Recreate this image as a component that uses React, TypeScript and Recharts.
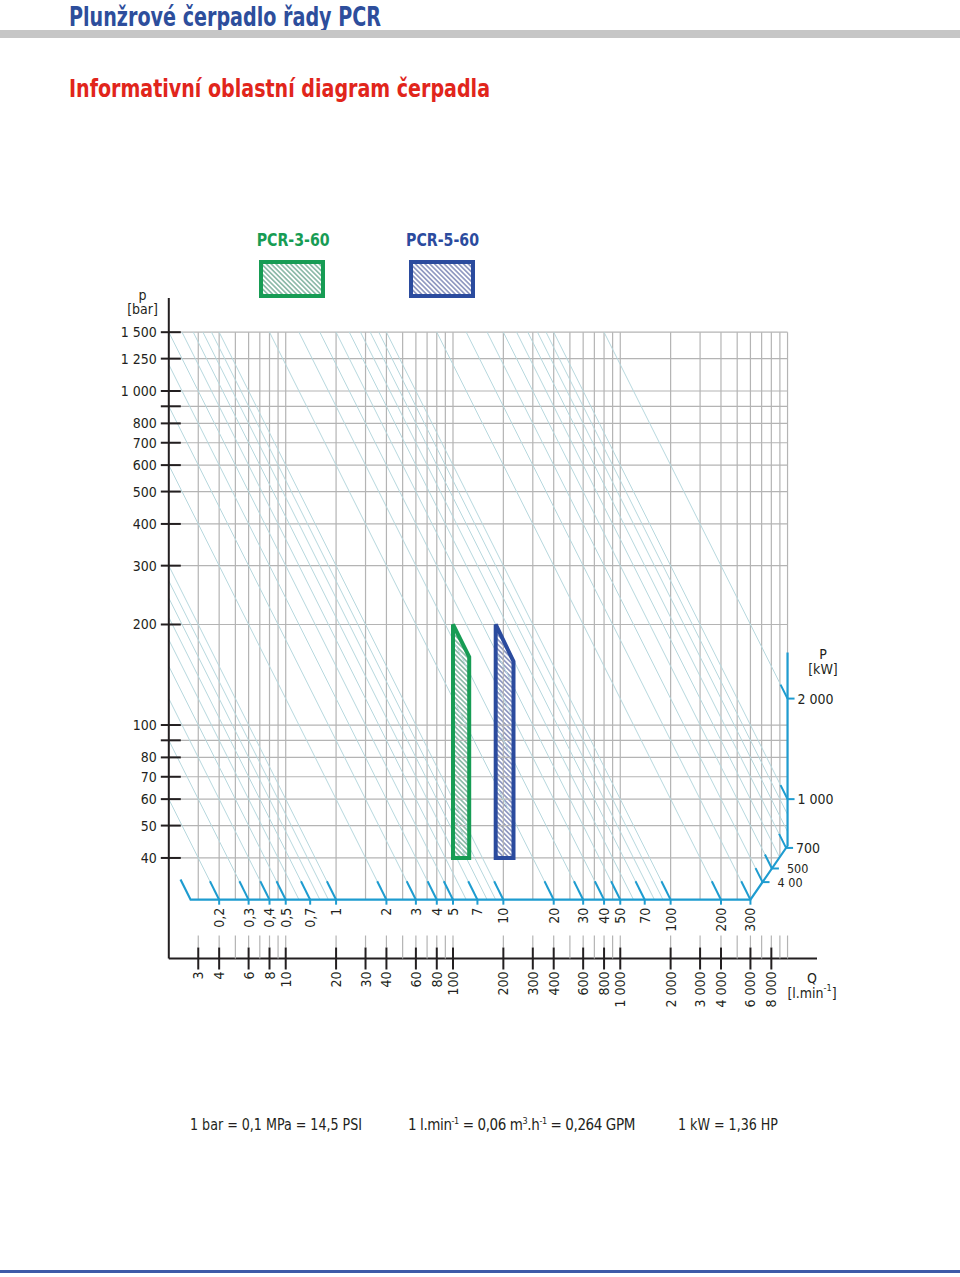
import React from 'react';
import { ComposedChart, XAxis, YAxis, Line, Area } from 'recharts';

const FONT = "'Liberation Sans Narrow','Arial Narrow','DejaVu Sans Condensed','Roboto Condensed',Roboto,Arial,sans-serif";

// ---------- axes ----------
const qDomain: [number, number] = [2, 15000];
const pDomain: [number, number] = [20, 1900];
const qGridValues = [3, 4, 5, 6, 7, 8, 9, 10, 20, 30, 40, 50, 60, 70, 80, 90, 100, 200, 300, 400, 500, 600, 700, 800, 900, 1000, 2000, 3000, 4000, 5000, 6000, 7000, 8000, 9000, 10000];
const qTickLabels = [3, 4, 6, 8, 10, 20, 30, 40, 60, 80, 100, 200, 300, 400, 600, 800, 1000, 2000, 3000, 4000, 6000, 8000];
const pGridValues = [40, 50, 60, 70, 80, 90, 100, 200, 300, 400, 500, 600, 700, 800, 900, 1000, 1250, 1500];
const pTickLabels = [40, 50, 60, 70, 80, 100, 200, 300, 400, 500, 600, 700, 800, 1000, 1250, 1500];
const gridQMin = 2;
const gridQMax = 10000;
const gridPMax = 1500;

// ---------- power lines P [kW] ----------
const powerLineValues = [0.2, 0.3, 0.4, 0.5, 0.6, 0.7, 0.8, 0.9, 1, 2, 3, 4, 5, 6, 7, 8, 9, 10, 20, 30, 40, 50, 60, 70, 80, 90, 100, 200, 300, 400, 500, 600, 700, 800, 900, 1000, 2000];
const powerBottomLabels = [0.2, 0.3, 0.4, 0.5, 0.7, 1, 2, 3, 4, 5, 7, 10, 20, 30, 40, 50, 70, 100, 200, 300];
const powerRightLabels = [400, 500, 700, 1000, 2000];
const powerRightText = ['4 00', '500', '700', '1 000', '2 000'];

// ---------- blue reference polyline (Q, p) ----------
const refPathQ = [2.35, 2.7, 6000, 10000, 10000];
const refPathP = [34.5, 30, 30, 43.5, 165];

// ---------- pumps ----------
const pumpNames = ['PCR-3-60', 'PCR-5-60'];
const pumpColors = ['#179c54', '#2b4b9e'];
const pumpHatch = ['hatchG', 'hatchB'];
const pumpQMin = [100, 180];
const pumpQMax = [125, 230];
const pumpPMin = [40, 40];
const pumpPMaxAtQMin = [200, 200];
const pumpPMaxAtQMax = [160, 155];

const GRID = '#b4b4b4';
const DIAG = '#b7d8de';
const REF = '#1e9cd0';
const INK = '#231f20';

const L = Math.log10;

function hitRef(a: number, b: number, c: number) {
  for (let i = 1; i < refPathQ.length - 1; i++) {
    const u1 = L(refPathQ[i]), v1 = L(refPathP[i]);
    const u2 = L(refPathQ[i + 1]), v2 = L(refPathP[i + 1]);
    const den = a * (u2 - u1) + b * (v2 - v1);
    if (Math.abs(den) < 1e-12) continue;
    const t = (c - a * u1 - b * v1) / den;
    if (t >= -1e-9 && t <= 1 + 1e-9) {
      return { q: Math.pow(10, u1 + t * (u2 - u1)), p: Math.pow(10, v1 + t * (v2 - v1)) };
    }
  }
  return null;
}

const fmt = (n: number) => {
  const s = String(n);
  const [i, d] = s.split('.');
  const ii = i.replace(/\B(?=(\d{3})+(?!\d))/g, ' ');
  return d ? ii + ',' + d : ii;
};

const diagonals = powerLineValues.map((P) => {
  let qs = (600 * P) / gridPMax;
  let ps = gridPMax;
  if (qs < gridQMin) {
    qs = gridQMin;
    ps = (600 * P) / gridQMin;
  }
  const end = hitRef(1, 1, L(600 * P))!;
  return { P, data: [{ q: qs, p: ps }, { q: end.q, p: end.p }] };
});

const vGrid = qGridValues.map((q) => {
  const end = hitRef(1, 0, L(q));
  return { q, data: [{ q, p: gridPMax }, { q, p: end ? end.p : 30 }] };
});

const hGrid = pGridValues.map((p) => {
  const end = hitRef(0, 1, L(p));
  return { p, data: [{ q: gridQMin, p }, { q: end ? end.q : gridQMax, p }] };
});

const refData = refPathQ.map((q, i) => ({ q, p: refPathP[i] }));

const bottomMarks = powerBottomLabels.map((P) => {
  const h = hitRef(1, 1, L(600 * P))!;
  return { q: h.q, p: h.p, label: fmt(P) };
});
const rightMarks = powerRightLabels.map((P, i) => {
  const h = hitRef(1, 1, L(600 * P))!;
  return { q: h.q, p: h.p, label: powerRightText[i] };
});

const XTick = (props: any) => {
  const { x, y, payload } = props;
  const v = payload.value;
  const lab = qTickLabels.includes(v);
  return (
    <g>
      <line x1={x} x2={x} y1={y - 23} y2={lab ? y - 11 : y} stroke={GRID} strokeWidth={1.2} />
      {lab && <line x1={x} x2={x} y1={y - 11} y2={y + 11} stroke={INK} strokeWidth={2} />}
      {lab && (
        <text x={x} y={y + 13} transform={`rotate(-90 ${x} ${y + 13})`} textAnchor="end" dominantBaseline="central" fontSize={14} fill={INK} fontFamily={FONT}>
          {fmt(v)}
        </text>
      )}
    </g>
  );
};

const YTick = (props: any) => {
  const { x, y, payload } = props;
  const v = payload.value;
  const lab = pTickLabels.includes(v);
  return (
    <g>
      <line x1={x - 8} x2={x + 12} y1={y} y2={y} stroke={INK} strokeWidth={2} />
      {lab && (
        <text x={x - 12} y={y} textAnchor="end" dominantBaseline="central" fontSize={14} fill={INK} fontFamily={FONT}>
          {fmt(v)}
        </text>
      )}
    </g>
  );
};

const BottomMark = (props: any) => {
  const { cx, cy, payload, index } = props;
  if (cx == null || cy == null) return <g key={index} />;
  return (
    <g key={`bm${index}`}>
      <line x1={cx} y1={cy} x2={cx - 9.2} y2={cy - 18.4} stroke={REF} strokeWidth={2} />
      <line x1={cx} y1={cy} x2={cx} y2={cy + 5} stroke={REF} strokeWidth={2} />
      <text x={cx} y={cy + 8} transform={`rotate(-90 ${cx} ${cy + 8})`} textAnchor="end" dominantBaseline="central" fontSize={14} fill={INK} fontFamily={FONT}>
        {payload.label}
      </text>
    </g>
  );
};

const RightMark = (props: any) => {
  const { cx, cy, payload, index } = props;
  if (cx == null || cy == null) return <g key={index} />;
  const onEdge = payload.q >= gridQMax * 0.95;
  return (
    <g key={`rm${index}`}>
      <line x1={cx} y1={cy} x2={cx - 7} y2={cy - 14} stroke={REF} strokeWidth={2} />
      <line x1={cx} y1={cy} x2={cx + 7} y2={cy} stroke={REF} strokeWidth={2} />
      <text x={cx + (onEdge ? 10 : 15)} y={cy} textAnchor="start" dominantBaseline="central" fontSize={onEdge ? 14 : 12.5} fill={INK} fontFamily={FONT}>
        {payload.label}
      </text>
    </g>
  );
};

function Overlay() {
  return (
    <svg width={960} height={1277} style={{ position: 'absolute', left: 0, top: 0, pointerEvents: 'none' }}>
      <defs>
        <pattern id="hatchG" patternUnits="userSpaceOnUse" width={3.4} height={3.4} patternTransform="rotate(45)">
          <rect width={3.4} height={3.4} fill="#ffffff" />
          <line x1={0} y1={1.7} x2={3.4} y2={1.7} stroke="#5f9f86" strokeWidth={1.2} />
        </pattern>
        <pattern id="hatchB" patternUnits="userSpaceOnUse" width={3.4} height={3.4} patternTransform="rotate(45)">
          <rect width={3.4} height={3.4} fill="#ffffff" />
          <line x1={0} y1={1.7} x2={3.4} y2={1.7} stroke="#6470a8" strokeWidth={1.2} />
        </pattern>
      </defs>
      <text x={69} y={26} fontSize={26} fontWeight="bold" fill="#2d4e9c" fontFamily={FONT} textLength={312} lengthAdjust="spacingAndGlyphs">
        Plunžrové čerpadlo řady PCR
      </text>
      <rect x={0} y={30} width={960} height={8} fill="#c6c6c6" />
      <text x={69} y={97} fontSize={25.5} fontWeight="bold" fill="#e1251b" fontFamily={FONT} textLength={421} lengthAdjust="spacingAndGlyphs">
        Informativní oblastní diagram čerpadla
      </text>

      {/* legend */}
      <text x={256.7} y={246} fontSize={17} fontWeight="bold" fill={pumpColors[0]} fontFamily={FONT} textLength={73} lengthAdjust="spacingAndGlyphs">
        {pumpNames[0]}
      </text>
      <rect x={261} y={262} width={62} height={34} fill="url(#hatchG)" stroke={pumpColors[0]} strokeWidth={4} />
      <text x={406} y={246} fontSize={17} fontWeight="bold" fill={pumpColors[1]} fontFamily={FONT} textLength={73} lengthAdjust="spacingAndGlyphs">
        {pumpNames[1]}
      </text>
      <rect x={411} y={262} width={62} height={34} fill="url(#hatchB)" stroke={pumpColors[1]} strokeWidth={4} />

      {/* axis titles */}
      <text x={142.5} y={295} textAnchor="middle" dominantBaseline="central" fontSize={14} fill={INK} fontFamily={FONT}>p</text>
      <text x={142.5} y={309} textAnchor="middle" dominantBaseline="central" fontSize={14} fill={INK} fontFamily={FONT}>[bar]</text>
      <text x={823} y={654} textAnchor="middle" dominantBaseline="central" fontSize={14} fill={INK} fontFamily={FONT}>P</text>
      <text x={823} y={669} textAnchor="middle" dominantBaseline="central" fontSize={14} fill={INK} fontFamily={FONT}>[kW]</text>
      <text x={812} y={978} textAnchor="middle" dominantBaseline="central" fontSize={14} fill={INK} fontFamily={FONT}>Q</text>
      <text x={812} y={993} textAnchor="middle" dominantBaseline="central" fontSize={14} fill={INK} fontFamily={FONT}>
        [l.min<tspan fontSize={9} dy={-5}>-1</tspan><tspan dy={5}>]</tspan>
      </text>

      {/* footer */}
      <text x={190} y={1130} fontSize={16} fill={INK} fontFamily={FONT} textLength={172} lengthAdjust="spacingAndGlyphs">
        1 bar = 0,1 MPa = 14,5 PSI
      </text>
      <text x={408} y={1130} fontSize={15} letterSpacing={-0.4} fill={INK} fontFamily={FONT}>
        1 l.min<tspan fontSize={9} dy={-6}>-1</tspan><tspan dy={6}> = 0,06 m</tspan><tspan fontSize={9} dy={-6}>3</tspan><tspan dy={6}>.h</tspan><tspan fontSize={9} dy={-6}>-1</tspan><tspan dy={6}> = 0,264 GPM</tspan>
      </text>
      <text x={678} y={1130} fontSize={16} fill={INK} fontFamily={FONT} textLength={100} lengthAdjust="spacingAndGlyphs">
        1 kW = 1,36 HP
      </text>
      <rect x={0} y={1270} width={960} height={3} fill="#3d5ba8" />
    </svg>
  );
}

export default function App() {
  return (
    <div style={{ position: 'absolute', left: 0, top: 0, width: 960, height: 1277, background: '#fff' }}>
      <ComposedChart width={960} height={1277} margin={{ top: 297.9, right: 143, bottom: 258.5, left: 108.8 }}>
        <XAxis
          dataKey="q"
          type="number"
          scale="log"
          domain={qDomain}
          ticks={qGridValues}
          interval={0}
          height={60}
          tick={XTick}
          tickLine={false}
          tickSize={0}
          tickMargin={0}
          axisLine={{ stroke: INK, strokeWidth: 2 }}
        />
        <YAxis
          type="number"
          scale="log"
          domain={pDomain}
          ticks={pGridValues}
          interval={0}
          width={60}
          tick={YTick}
          tickLine={false}
          tickSize={0}
          tickMargin={0}
          axisLine={{ stroke: INK, strokeWidth: 2 }}
        />
        {hGrid.map((g) => (
          <Line key={`h${g.p}`} data={g.data} dataKey="p" stroke={GRID} strokeWidth={1.2} dot={false} activeDot={false} isAnimationActive={false} />
        ))}
        {vGrid.map((g) => (
          <Line key={`v${g.q}`} data={g.data} dataKey="p" stroke={GRID} strokeWidth={1.2} dot={false} activeDot={false} isAnimationActive={false} />
        ))}
        {diagonals.map((d) => (
          <Line key={`d${d.P}`} data={d.data} dataKey="p" stroke={DIAG} strokeWidth={1} dot={false} activeDot={false} isAnimationActive={false} />
        ))}
        {pumpNames.map((n, i) => (
          <Area
            key={`a${n}`}
            data={[
              { q: pumpQMin[i], r: [pumpPMin[i], pumpPMaxAtQMin[i]] },
              { q: pumpQMax[i], r: [pumpPMin[i], pumpPMaxAtQMax[i]] },
            ]}
            dataKey="r"
            type="linear"
            stroke="none"
            fill={`url(#${pumpHatch[i]})`}
            fillOpacity={1}
            dot={false}
            activeDot={false}
            isAnimationActive={false}
          />
        ))}
        {pumpNames.map((n, i) => (
          <Line
            key={`o${n}`}
            data={[
              { q: pumpQMin[i], p: pumpPMin[i] },
              { q: pumpQMin[i], p: pumpPMaxAtQMin[i] },
              { q: pumpQMax[i], p: pumpPMaxAtQMax[i] },
              { q: pumpQMax[i], p: pumpPMin[i] },
              { q: pumpQMin[i], p: pumpPMin[i] },
            ]}
            dataKey="p"
            type="linear"
            stroke={pumpColors[i]}
            strokeWidth={4}
            strokeLinejoin="miter"
            strokeLinecap="square"
            dot={false}
            activeDot={false}
            isAnimationActive={false}
          />
        ))}
        <Line data={refData} dataKey="p" type="linear" stroke={REF} strokeWidth={2.2} dot={false} activeDot={false} isAnimationActive={false} />
        <Line data={bottomMarks} dataKey="p" stroke="none" dot={BottomMark} activeDot={false} isAnimationActive={false} />
        <Line data={rightMarks} dataKey="p" stroke="none" dot={RightMark} activeDot={false} isAnimationActive={false} />
      </ComposedChart>
      <Overlay />
    </div>
  );
}
